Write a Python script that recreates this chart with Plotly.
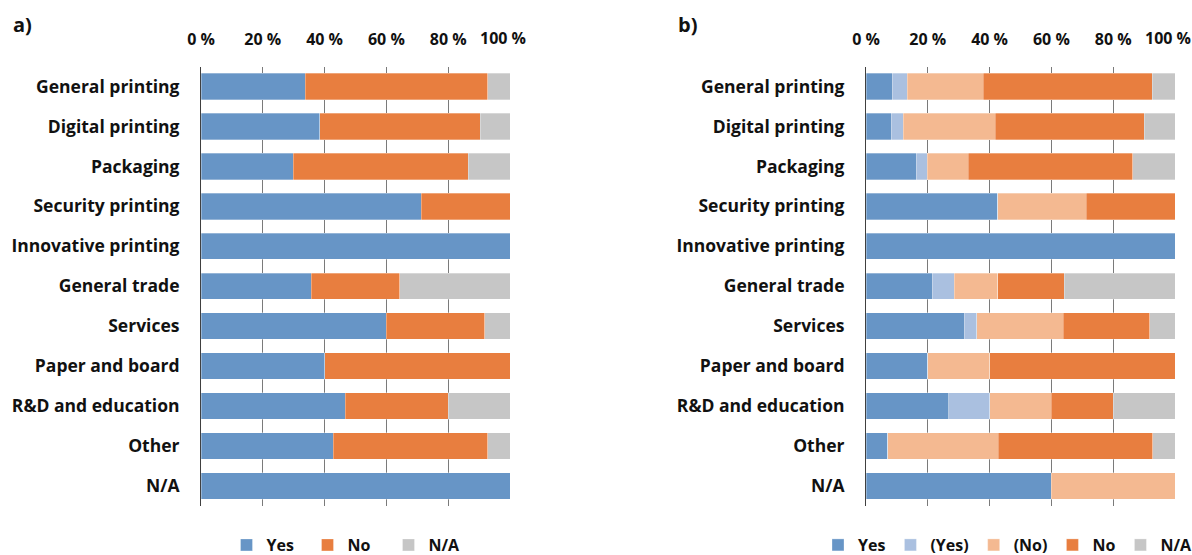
import plotly.graph_objects as go

# Sector categories (top to bottom)
categories = [
    "General printing", "Digital printing", "Packaging", "Security printing",
    "Innovative printing", "General trade", "Services", "Paper and board",
    "R&D and education", "Other", "N/A",
]

# Panel a) shares in percent
a_yes = [33.8, 38.4, 29.8, 71.3, 100.0, 35.7, 59.9, 40.0, 46.7, 42.8, 100.0]
a_no = [59.0, 51.9, 56.7, 28.7, 0.0, 28.6, 32.0, 60.0, 33.3, 50.0, 0.0]
a_na = [7.2, 9.7, 13.5, 0.0, 0.0, 35.7, 8.1, 0.0, 20.0, 7.2, 0.0]

# Panel b) shares in percent
b_yes = [8.5, 8.2, 16.3, 42.7, 100.0, 21.4, 31.8, 20.0, 26.7, 7.1, 60.0]
b_yes_soft = [4.8, 3.8, 3.6, 0.0, 0.0, 7.1, 4.0, 0.0, 13.3, 0.0, 0.0]
b_no_soft = [24.6, 29.8, 13.2, 28.5, 0.0, 14.2, 28.0, 20.0, 20.0, 35.7, 40.0]
b_no = [54.7, 48.2, 53.3, 28.8, 0.0, 21.4, 28.1, 60.0, 20.0, 50.0, 0.0]
b_na = [7.4, 10.0, 13.6, 0.0, 0.0, 35.9, 8.1, 0.0, 20.0, 7.2, 0.0]

tick_vals = [0, 20, 40, 60, 80, 100]
tick_text = ["0 %", "20 %", "40 %", "60 %", "80 %", "100 %"]

# the last label is placed separately, nudged left of its gridline
axis_tick_text = tick_text[:-1] + [""]

C_YES = "#6795c6"
C_YES_SOFT = "#aac0e0"
C_NO_SOFT = "#f4b991"
C_NO = "#e87e3f"
C_NA = "#c6c6c6"

FONT = "Open Sans"
TXT = "#111111"
TICK_SIZE = 16

fig = go.Figure()

def add_series(values, name, color, xa, ya, legend):
    fig.add_trace(go.Bar(
        y=categories, x=values, name=name, orientation="h",
        marker=dict(color=color, line=dict(color="rgba(255,255,255,0.5)", width=0.6)),
        xaxis=xa, yaxis=ya, legend=legend, hoverinfo="x+y+name",
    ))

add_series(a_yes, "Yes", C_YES, "x", "y", "legend")
add_series(a_no, "No", C_NO, "x", "y", "legend")
add_series(a_na, "N/A", C_NA, "x", "y", "legend")

add_series(b_yes, "Yes", C_YES, "x2", "y2", "legend2")
add_series(b_yes_soft, "(Yes)", C_YES_SOFT, "x2", "y2", "legend2")
add_series(b_no_soft, "(No)", C_NO_SOFT, "x2", "y2", "legend2")
add_series(b_no, "No", C_NO, "x2", "y2", "legend2")
add_series(b_na, "N/A", C_NA, "x2", "y2", "legend2")

W, H = 1192, 555
y_dom = [(H - 505.8) / H, (H - 66.6) / H]

xcommon = dict(
    range=[0, 100], side="top", tickvals=tick_vals, ticktext=axis_tick_text,
    tickfont=dict(family=FONT, size=TICK_SIZE, color=TXT, weight="bold"),
    showgrid=True, gridcolor="#7a7a7a", gridwidth=1,
    zeroline=False, showline=False, ticks="", ticklabelstandoff=17,
    fixedrange=True, automargin=False,
)
ycommon = dict(
    type="category", autorange="reversed", showgrid=False,
    showline=True, linecolor="#404040", linewidth=1,
    tickfont=dict(family=FONT, size=17.5, color=TXT, weight="bold"),
    ticks="", ticklabelstandoff=17, domain=y_dom, fixedrange=True,
    automargin=False,
)

legend_font = dict(family=FONT, size=16, color=TXT, weight="bold")

def end_label(xref):
    return dict(
        text=tick_text[-1], x=tick_vals[-1], xref=xref, y=y_dom[1], yref="paper",
        xanchor="center", yanchor="middle", xshift=-7.5, yshift=28.5,
        showarrow=False, font=dict(family=FONT, size=TICK_SIZE, color=TXT, weight="bold"),
    )

fig.update_layout(
    width=W, height=H,
    margin=dict(l=0, r=0, t=0, b=0, autoexpand=False),
    paper_bgcolor="white", plot_bgcolor="white",
    barmode="stack", bargap=0.34,
    xaxis=dict(domain=[201 / W, 510 / W], anchor="y", **xcommon),
    yaxis=dict(anchor="x", **ycommon),
    xaxis2=dict(domain=[866 / W, 1175 / W], anchor="y2", **xcommon),
    yaxis2=dict(anchor="x2", **ycommon),
    legend=dict(
        orientation="h", x=348 / W, xanchor="center", y=(H - 545) / H, yanchor="middle",
        font=legend_font, traceorder="normal", itemclick=False, itemdoubleclick=False,
        entrywidth=36, entrywidthmode="pixels",
    ),
    legend2=dict(
        orientation="h", x=1008 / W, xanchor="center", y=(H - 545) / H, yanchor="middle",
        font=legend_font, traceorder="normal", itemclick=False, itemdoubleclick=False,
    ),
    annotations=[
        end_label("x"),
        end_label("x2"),
        dict(text="<b>a)</b>", x=11 / W, y=(H - 25) / H, xref="paper", yref="paper",
             xanchor="left", yanchor="middle", showarrow=False,
             font=dict(family=FONT, size=20, color=TXT)),
        dict(text="<b>b)</b>", x=676 / W, y=(H - 25) / H, xref="paper", yref="paper",
             xanchor="left", yanchor="middle", showarrow=False,
             font=dict(family=FONT, size=20, color=TXT)),
    ],
)

fig.write_html("out.html")
